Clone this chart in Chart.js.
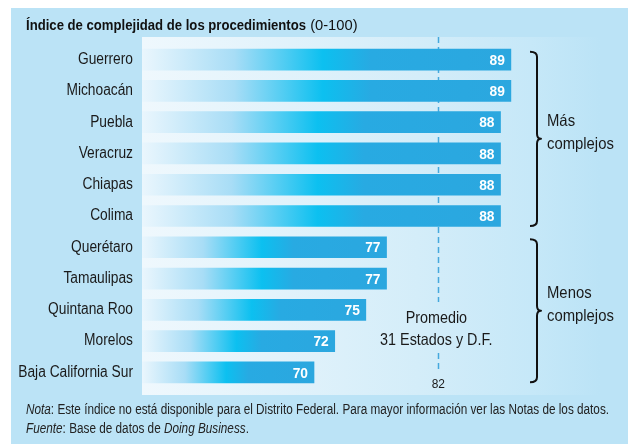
<!DOCTYPE html>
<html><head><meta charset="utf-8">
<script src="https://cdn.jsdelivr.net/npm/chart.js@4/dist/chart.umd.min.js"></script>
<style>html,body{margin:0;padding:0;background:#fff;}canvas{display:block;}</style>
</head><body>
<canvas id="c" width="632" height="444"></canvas>
<script>
const categories = ['Guerrero','Michoacán','Puebla','Veracruz','Chiapas','Colima','Querétaro','Tamaulipas','Quintana Roo','Morelos','Baja California Sur'];
const values = [89,89,88,88,88,88,77,77,75,72,70];
const averageValue = 82;
const averageLabel = ['Promedio','31 Estados y D.F.'];
const groupLabels = [['Más','complejos'],['Menos','complejos']];
const groupRanges = [[0,5],[6,10]];
const titleBold = 'Índice de complejidad de los procedimientos';
const titleNormal = ' (0-100)';

const FONT = "'Liberation Sans Narrow','Liberation Sans',Arial,sans-serif";
const PANEL = '#bbe3f6';

// draw horizontally condensed text
function ctext(ctx, s, x, y, font, sx, align){
  ctx.save();
  ctx.font = font;
  ctx.textAlign = align || 'left';
  ctx.translate(x, y);
  ctx.scale(sx, 1);
  ctx.fillText(s, 0, 0);
  const w = ctx.measureText(s).width * sx;
  ctx.restore();
  return w;
}

const deco = {
  id:'deco',
  afterUpdate(chart){
    const y = chart.scales.y;
    if (y && !y._condensed){
      const orig = y.drawLabels.bind(y);
      y.drawLabels = function(area){
        const ctx = this.ctx;
        const r = this.right - 9;
        ctx.save();
        ctx.translate(r, 0); ctx.scale(0.86, 1); ctx.translate(-r, 0);
        orig(area);
        ctx.restore();
      };
      y._condensed = true;
    }
  },
  beforeDraw(chart){
    const {ctx, chartArea:a, scales} = chart;
    ctx.save();
    ctx.fillStyle = PANEL;
    ctx.fillRect(11,8,617,436);
    // plot background
    const g = ctx.createLinearGradient(a.left,0,600,0);
    g.addColorStop(0,'#eff8fd');
    g.addColorStop(0.6,'#d4edf9');
    g.addColorStop(0.85,'#c6e8f8');
    g.addColorStop(1,PANEL);
    ctx.fillStyle = g;
    ctx.fillRect(a.left, a.top-7, 600-a.left, a.bottom-a.top+14);
    // title
    ctx.fillStyle = '#111';
    ctx.textBaseline = 'alphabetic';
    const w = ctext(ctx, titleBold, 26, 30, 'bold 15px '+FONT, 0.875);
    ctext(ctx, titleNormal, 26+w, 30, '15px '+FONT, 0.98);
    // notes
    ctx.fillStyle = '#222';
    const sx = 0.84, nf = '14px '+FONT, nfi = 'italic 14px '+FONT;
    let x = 26;
    x += ctext(ctx, 'Nota', x, 414, nfi, sx);
    ctext(ctx, ': Este índice no está disponible para el Distrito Federal. Para mayor información ver las Notas de los datos.', x, 414, nf, sx);
    x = 26;
    x += ctext(ctx, 'Fuente', x, 433, nfi, sx);
    x += ctext(ctx, ': Base de datos de ', x, 433, nf, sx);
    x += ctext(ctx, 'Doing Business', x, 433, nfi, sx);
    ctext(ctx, '.', x, 433, nf, sx);
    // average dashed line
    const ax = Math.round(scales.x.getPixelForValue(averageValue))+0.5;
    ctx.strokeStyle = '#45a8dd';
    ctx.lineWidth = 1.5;
    ctx.setLineDash([6,4]);
    ctx.beginPath();
    ctx.moveTo(ax, a.top-7); ctx.lineTo(ax, 302);
    ctx.moveTo(ax, 353); ctx.lineTo(ax, 373);
    ctx.stroke();
    ctx.setLineDash([]);
    ctx.restore();
  },
  afterDatasetsDraw(chart){
    const {ctx, scales} = chart;
    const meta = chart.getDatasetMeta(0);
    ctx.save();
    // value labels
    ctx.fillStyle = '#fff';
    ctx.textBaseline = 'middle';
    meta.data.forEach((el,i)=>{ ctext(ctx, String(values[i]), el.x-6, el.y+1, 'bold 15px '+FONT, 0.92, 'right'); });
    // average label
    const ax = scales.x.getPixelForValue(averageValue);
    ctx.fillStyle = '#1a1a1a';
    ctx.textBaseline = 'alphabetic';
    ctext(ctx, averageLabel[0], ax-2, 323, '16.5px '+FONT, 0.87, 'center');
    ctext(ctx, averageLabel[1], ax-2, 345, '16.5px '+FONT, 0.87, 'center');
    ctext(ctx, String(averageValue), ax, 388, '13px '+FONT, 0.92, 'center');
    // brackets
    ctx.strokeStyle = '#111';
    ctx.lineWidth = 2;
    ctx.lineJoin = 'round';
    groupRanges.forEach((r,gi)=>{
      const y0 = scales.y.getPixelForValue(r[0]) - 8;
      const y1 = scales.y.getPixelForValue(r[1]) + 10;
      const ym = (y0+y1)/2;
      const xl = 530, xv = 537, xt = 541;
      ctx.beginPath();
      ctx.moveTo(xl, y0);
      ctx.quadraticCurveTo(xv, y0, xv, y0+5);
      ctx.lineTo(xv, ym-5);
      ctx.quadraticCurveTo(xv, ym, xt, ym);
      ctx.quadraticCurveTo(xv, ym, xv, ym+5);
      ctx.lineTo(xv, y1-5);
      ctx.quadraticCurveTo(xv, y1, xl, y1);
      ctx.stroke();
      ctx.fillStyle = '#1a1a1a';
      ctext(ctx, groupLabels[gi][0], 547, ym-13, '16.5px '+FONT, 0.9, 'left');
      ctext(ctx, groupLabels[gi][1], 547, ym+10, '16.5px '+FONT, 0.9, 'left');
    });
    ctx.restore();
  }
};

function barGradient(c){
  const chart = c.chart;
  const {ctx, chartArea, scales} = chart;
  if(!chartArea || !scales.x || c.type !== 'data') return '#2aa8e0';
  const x0 = scales.x.getPixelForValue(scales.x.min);
  const x1 = scales.x.getPixelForValue(c.raw);
  const g = ctx.createLinearGradient(x0,0,x1,0);
  g.addColorStop(0,'#eaf6fd');
  g.addColorStop(0.25,'#a8ddf6');
  g.addColorStop(0.49,'#0cc0f0');
  g.addColorStop(0.62,'#28aae2');
  g.addColorStop(1,'#2ba7df');
  return g;
}

new Chart(document.getElementById('c'), {
  type:'bar',
  data:{ labels:categories, datasets:[{ data:values, backgroundColor:barGradient, borderWidth:0, barThickness:21 }]},
  options:{
    indexAxis:'y',
    responsive:false,
    devicePixelRatio:1,
    animation:false,
    layout:{ padding:{ top:44, bottom:56, left:0, right:32 } },
    plugins:{ legend:{display:false}, tooltip:{enabled:false}, title:{display:false} },
    scales:{
      x:{ type:'linear', min:53.4, max:97.6, display:false },
      y:{
        grid:{ display:false, drawTicks:false }, border:{ display:false },
        ticks:{ color:'#1a1a1a', padding:9, font:{ family:FONT, size:16 } },
        afterFit(scale){ scale.width = 142; }
      }
    }
  },
  plugins:[deco]
});
</script>
</body></html>
